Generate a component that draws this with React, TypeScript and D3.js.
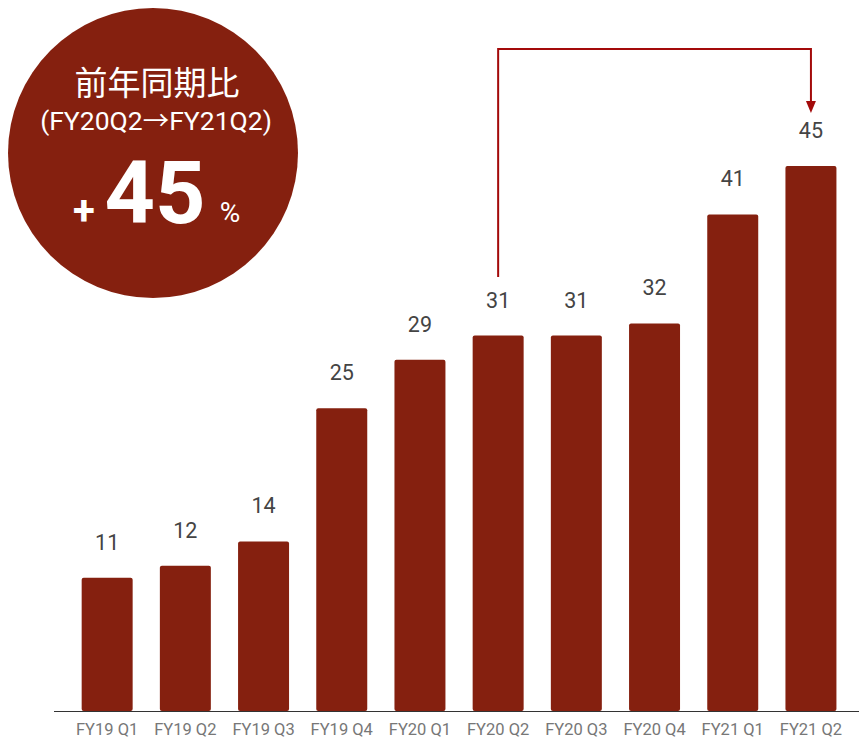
import React from "react";
import * as d3 from "d3";

const categories = ["FY19 Q1", "FY19 Q2", "FY19 Q3", "FY19 Q4", "FY20 Q1", "FY20 Q2", "FY20 Q3", "FY20 Q4", "FY21 Q1", "FY21 Q2"];
const values = [11, 12, 14, 25, 29, 31, 31, 32, 41, 45];
const badgeTitle = "前年同期比";
const badgeSub = "(FY20Q2→FY21Q2)";
const badgeValue = "45";
const arrowFrom = "FY20 Q2";
const arrowTo = "FY21 Q2";

const W = 859;
const H = 739;
const BAR = "#85200f";
const ARROW = "#a30a0a";
const FONT = "Roboto, 'Noto Sans CJK JP', sans-serif";

export default function App() {
  const x = d3
    .scaleBand<string>()
    .domain(categories)
    .range([54.3, 863.8])
    .paddingInner(0.348)
    .paddingOuter(0.35);
  const y = d3.scaleLinear().domain([0, 45]).range([711, 166]);
  const bw = x.bandwidth();

  const ax = (x(arrowFrom) as number) + bw / 2;
  const bx = (x(arrowTo) as number) + bw / 2;
  const topY = 49;
  const path = d3.path();
  path.moveTo(ax, 277);
  path.lineTo(ax, topY);
  path.lineTo(bx, topY);
  path.lineTo(bx, 102);

  return (
    <svg width={W} height={H} style={{ position: "absolute", left: 0, top: 0, fontFamily: FONT }}>
      <rect width={W} height={H} fill="#fff" />
      {categories.map((c, i) => (
        <g key={c}>
          <rect
            x={x(c)}
            y={y(values[i])}
            width={bw}
            height={y(0) - y(values[i])}
            rx={2}
            fill={BAR}
          />
          <text
            x={(x(c) as number) + bw / 2}
            y={y(values[i]) - 28}
            textAnchor="middle"
            fontSize={21.5}
            fill="#444"
          >
            {values[i]}
          </text>
          <text
            x={(x(c) as number) + bw / 2}
            y={735}
            textAnchor="middle"
            fontSize={16.5}
            fill="#777"
          >
            {c}
          </text>
        </g>
      ))}
      <line x1={54} x2={859} y1={711.5} y2={711.5} stroke="#333" strokeWidth={1} />

      <path d={path.toString()} fill="none" stroke={ARROW} strokeWidth={2} />
      <path d={`M${bx - 5},${101} L${bx + 5},${101} L${bx},${113} Z`} fill={ARROW} />

      <circle cx={153} cy={153} r={145} fill={BAR} />
      <text x={157} y={95} textAnchor="middle" fontSize={33} fill="#fff">
        {badgeTitle}
      </text>
      <text x={156} y={130} textAnchor="middle" fontSize={26.5} fill="#fff">
        {badgeSub}
      </text>
      <text x={84} y={224} textAnchor="middle" fontSize={40} fontWeight="bold" fill="#fff">
        +
      </text>
      <text x={155} y={223} textAnchor="middle" fontSize={88} fontWeight="bold" fill="#fff">
        {badgeValue}
      </text>
      <text x={230} y={222} textAnchor="middle" fontSize={28} fill="#fff">
        %
      </text>
    </svg>
  );
}
